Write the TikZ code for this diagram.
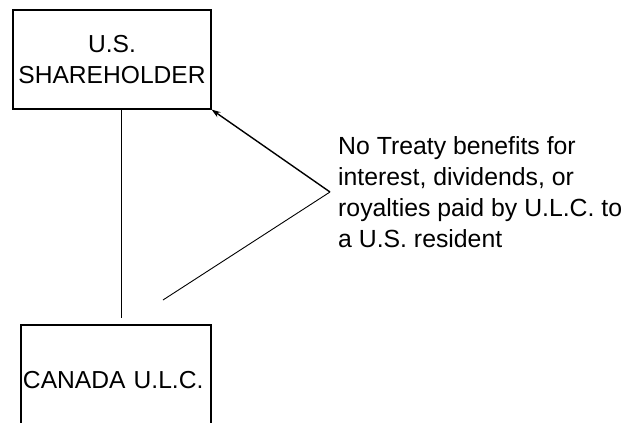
\documentclass[tikz,border=0pt]{standalone}
\usepackage{fontspec}
\setmainfont{Liberation Sans}
\usetikzlibrary{arrows.meta}
\begin{document}
\begin{tikzpicture}[x=1pt,y=-1pt,
  entity/.style={draw=black,line width=1.1pt,inner sep=0pt,align=center,
    font=\fontsize{24.6}{31}\selectfont},
  link/.style={draw=black,line width=0.9pt},
  notetext/.style={inner sep=0pt,align=left,anchor=north west,
    font=\fontsize{24.8}{31}\selectfont}]
  \clip (0,0) rectangle (627,423);
  \fill[white] (0,0) rectangle (627,423);
  % entities
  \node[entity,minimum width=198pt,minimum height=99pt] (us) at (112,59.5)
    {U.S.\\SHAREHOLDER};
  \node[entity,minimum width=190pt,minimum height=110pt,align=left,
    text width=186pt,inner xsep=2pt] (ulc) at (116,380)
    {CANADA U.L.C.};
  % ownership line
  \coordinate (own top) at (121,109);
  \coordinate (own bot) at (121,318);
  \draw[link] (own top) -- (own bot);
  % explanatory note with its pointer
  \node[notetext] (note) at (338,136)
    {No Treaty benefits for\\interest, dividends, or\\royalties paid by U.L.C. to\\a U.S. resident};
  \coordinate (bend) at (330,192);
  \coordinate (tail) at (163,300);
  \draw[link,line width=1.4pt,-{Stealth[length=9pt,width=6pt]}] (bend) -- (us.south east);
  \draw[link] (bend) -- (tail);
\end{tikzpicture}
\end{document}
